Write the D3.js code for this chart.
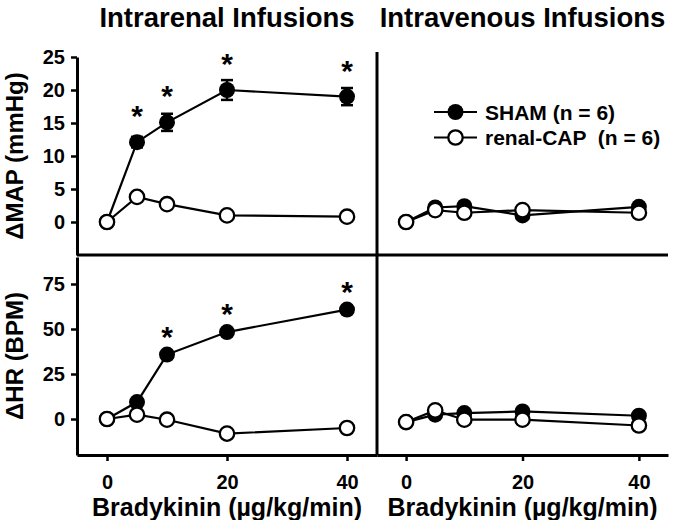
<!DOCTYPE html>
<html>
<head>
<meta charset="utf-8">
<script src="https://cdn.jsdelivr.net/npm/d3@7"></script>
<style>
  body { margin: 0; background: #fff; }
  svg text { font-family: Arial, 'Liberation Sans', sans-serif; font-weight: bold; fill: #000; white-space: pre; }
</style>
</head>
<body>
<div id="chart"></div>
<script>
// doses of bradykinin (ug/kg/min)
const doses = [0, 5, 10, 20, 40]

// delta MAP (mmHg)
const mapRenalSham = [0, 12.1, 15.1, 20.0, 19.0]
const mapRenalShamErr = [0, 0.8, 1.3, 1.5, 1.3]
const mapRenalCap = [0, 3.8, 2.7, 1.0, 0.8]
const mapVenousSham = [0, 2.2, 2.4, 1.0, 2.3]
const mapVenousCap = [0, 1.8, 1.4, 1.8, 1.4]

// delta HR (BPM)
const hrRenalSham = [0, 9.4, 35.8, 48.3, 60.8]
const hrRenalCap = [0, 2.4, -0.4, -8.1, -5.0]
const hrVenousSham = [-1.7, 2.4, 3.3, 4.2, 1.8]
const hrVenousCap = [-1.7, 4.8, -0.4, -0.4, -3.6]

// significance marks, intrarenal only
const mapStars = [false, true, true, true, true]
const hrStars = [false, false, true, true, true]

const xTicks = [0, 20, 40]
const mapTicks = [0, 5, 10, 15, 20, 25]
const hrTicks = [0, 25, 50, 75]
const colTitles = ['Intrarenal Infusions', 'Intravenous Infusions']
const rowLabels = ['ΔMAP (mmHg)', 'ΔHR (BPM)']
const legendLabels = ['SHAM (n = 6)', 'renal-CAP  (n = 6)']

const width = 676
const height = 520

const svg = d3.select('#chart').append('svg')
  .attr('width', width)
  .attr('height', height)

const cols = [
  { x: d3.scaleLinear().domain([-5, 45]).range([77, 377]) },
  { x: d3.scaleLinear().domain([-5, 45]).range([377, 668]) }
]
const rows = [
  { y: d3.scaleLinear().domain([-5, 25]).range([255, 57]), ticks: mapTicks, starGap: 33 },
  { y: d3.scaleLinear().domain([-20, 90]).range([455, 257]), ticks: hrTicks, starGap: 25 }
]

const panels = [
  { col: 0, row: 0, sham: mapRenalSham, shamErr: mapRenalShamErr, cap: mapRenalCap, stars: mapStars },
  { col: 1, row: 0, sham: mapVenousSham, cap: mapVenousCap },
  { col: 0, row: 1, sham: hrRenalSham, cap: hrRenalCap, stars: hrStars },
  { col: 1, row: 1, sham: hrVenousSham, cap: hrVenousCap }
]

// y axes on the left
rows.forEach((r, i) => {
  const g = svg.append('g')
    .attr('transform', 'translate(77,0)')
    .call(d3.axisLeft(r.y).tickValues(r.ticks).tickSize(6).tickSizeOuter(0).tickPadding(6))
  g.select('.domain').attr('stroke-width', 3)
  g.selectAll('.tick line').attr('stroke-width', 2.5)
  g.selectAll('.tick text').attr('font-size', 20).attr('font-family', null)

  const [y0, y1] = r.y.range()
  svg.append('text')
    .attr('transform', `translate(23,${(y0 + y1) / 2}) rotate(-90)`)
    .attr('text-anchor', 'middle')
    .attr('font-size', 24)
    .text(rowLabels[i])
})

// x axes at the bottom
cols.forEach((c, i) => {
  const g = svg.append('g')
    .attr('transform', 'translate(0,455)')
    .call(d3.axisBottom(c.x).tickValues(xTicks).tickSize(6).tickSizeOuter(0).tickPadding(14))
  g.select('.domain').attr('stroke-width', 3)
  g.selectAll('.tick line').attr('stroke-width', 2.5)
  g.selectAll('.tick text').attr('font-size', 20).attr('font-family', null)

  const [x0, x1] = c.x.range()
  svg.append('text')
    .attr('x', (x0 + x1) / 2)
    .attr('y', 516)
    .attr('text-anchor', 'middle')
    .attr('font-size', 25)
    .text('Bradykinin (µg/kg/min)')

  svg.append('text')
    .attr('x', (x0 + x1) / 2)
    .attr('y', 27)
    .attr('text-anchor', 'middle')
    .attr('font-size', 27.5)
    .text(colTitles[i])
})

// panel dividers
svg.append('line')
  .attr('x1', 77).attr('x2', 668)
  .attr('y1', 255).attr('y2', 255)
  .attr('stroke', '#000').attr('stroke-width', 3)
svg.append('line')
  .attr('x1', 377).attr('x2', 377)
  .attr('y1', 52).attr('y2', 455)
  .attr('stroke', '#000').attr('stroke-width', 3)

function drawSeries (g, x, y, values, filled, errs) {
  const pts = doses.map((d, i) => ({ d, v: values[i], e: errs ? errs[i] : 0 }))
  g.append('path')
    .datum(pts)
    .attr('fill', 'none')
    .attr('stroke', '#000')
    .attr('stroke-width', 2.2)
    .attr('d', d3.line().x(p => x(p.d)).y(p => y(p.v)))

  if (errs) {
    const eb = g.selectAll(null).data(pts.filter(p => p.e > 0)).join('g')
    eb.append('line')
      .attr('x1', p => x(p.d)).attr('x2', p => x(p.d))
      .attr('y1', p => y(p.v - p.e)).attr('y2', p => y(p.v + p.e))
      .attr('stroke', '#000').attr('stroke-width', 2.5)
    ;[-1, 1].forEach(s => {
      eb.append('line')
        .attr('x1', p => x(p.d) - 6).attr('x2', p => x(p.d) + 6)
        .attr('y1', p => y(p.v + s * p.e)).attr('y2', p => y(p.v + s * p.e))
        .attr('stroke', '#000').attr('stroke-width', 2.5)
    })
  }

  g.selectAll(null).data(pts).join('circle')
    .attr('cx', p => x(p.d))
    .attr('cy', p => y(p.v))
    .attr('r', filled ? 8 : 7.2)
    .attr('fill', filled ? '#000' : '#fff')
    .attr('stroke', '#000')
    .attr('stroke-width', filled ? 0 : 2.3)
}

panels.forEach(p => {
  const x = cols[p.col].x
  const y = rows[p.row].y
  const g = svg.append('g')
  drawSeries(g, x, y, p.sham, true, p.shamErr)
  drawSeries(g, x, y, p.cap, false)

  if (p.stars) {
    g.selectAll(null)
      .data(doses.map((d, i) => ({ d, v: p.sham[i], on: p.stars[i] })).filter(s => s.on))
      .join('text')
      .attr('x', s => x(s.d))
      .attr('y', s => y(s.v) - rows[p.row].starGap + 17)
      .attr('text-anchor', 'middle')
      .attr('font-size', 30)
      .text('*')
  }
})

// legend
const legend = svg.append('g').attr('transform', 'translate(434,112)')
legendLabels.forEach((label, i) => {
  const item = legend.append('g').attr('transform', `translate(0,${i * 25.5})`)
  item.append('line')
    .attr('x1', 0).attr('x2', 43)
    .attr('stroke', '#000').attr('stroke-width', 2.2)
  item.append('circle')
    .attr('cx', 21.5)
    .attr('r', i === 0 ? 8 : 7.2)
    .attr('fill', i === 0 ? '#000' : '#fff')
    .attr('stroke', '#000')
    .attr('stroke-width', i === 0 ? 0 : 2.3)
  item.append('text')
    .attr('x', 51)
    .attr('dy', '0.36em')
    .attr('font-size', 21)
    .text(label)
})
</script>
</body>
</html>
